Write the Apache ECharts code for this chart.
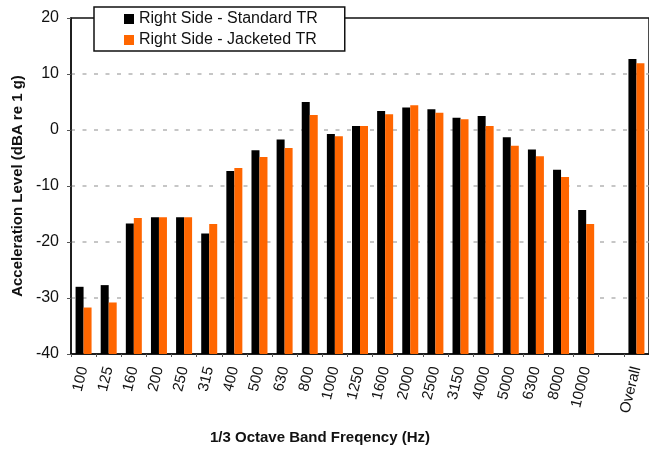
<!DOCTYPE html>
<html>
<head>
<meta charset="utf-8">
<script src="https://cdn.jsdelivr.net/npm/echarts@6/dist/echarts.min.js"></script>
<style>
  html, body { margin: 0; padding: 0; background: #fff; }
  #chart { width: 649px; height: 452px; }
</style>
</head>
<body>
<div id="chart"></div>
<script>
// 1/3 octave band centre frequencies (Hz), a spacer slot, then the overall level
var bands = ['100', '125', '160', '200', '250', '315', '400', '500', '630', '800',
  '1000', '1250', '1600', '2000', '2500', '3150', '4000', '5000', '6300', '8000',
  '10000', '', 'Overall'];

// Acceleration level, dBA re 1 g
var standardTR = [-28.0, -27.7, -16.7, -15.6, -15.6, -18.5, -7.3, -3.6, -1.7, 5.0,
  -0.7, 0.7, 3.4, 4.0, 3.7, 2.2, 2.5, -1.3, -3.5, -7.1,
  -14.3, null, 12.7];
var jacketedTR = [-31.7, -30.8, -15.7, -15.6, -15.6, -16.8, -6.8, -4.8, -3.2, 2.7,
  -1.1, 0.7, 2.8, 4.4, 3.1, 1.9, 0.7, -2.8, -4.7, -8.4,
  -16.8, null, 11.9];

var yTicks = { min: -40, max: 20, step: 10 };

var FONT = '"Liberation Sans", Arial, sans-serif';
var BAR_W = 8;

// [categoryIndex, value] pairs, skipping the empty spacer slot
function pairs(values) {
  var out = [];
  values.forEach(function (v, i) { if (v !== null) out.push([i, v]); });
  return out;
}

// Bars rise from the bottom of the value axis, not from zero
function barRenderer(offset) {
  return function (params, api) {
    var top = api.coord([api.value(0), api.value(1)]);
    var base = api.coord([api.value(0), yTicks.min]);
    return {
      type: 'rect',
      shape: { x: top[0] + offset, y: top[1], width: BAR_W, height: base[1] - top[1] },
      style: api.style()
    };
  };
}

var chart = echarts.init(document.getElementById('chart'), null, { renderer: 'canvas' });

chart.setOption({
  animation: false,
  backgroundColor: '#ffffff',
  textStyle: { fontFamily: FONT },
  grid: {
    left: 71,
    top: 18,
    width: 582,
    height: 336,
    show: true,
    borderColor: '#111',
    borderWidth: 1.5,
    backgroundColor: 'transparent'
  },
  legend: {
    orient: 'vertical',
    left: 94,
    top: 7,
    itemWidth: 10,
    itemHeight: 10,
    itemGap: 5,
    icon: 'rect',
    padding: [4, 27, 3, 30],
    backgroundColor: '#ffffff',
    borderColor: '#111',
    borderWidth: 1.5,
    textStyle: { fontFamily: FONT, fontSize: 16, color: '#111', lineHeight: 16 },
    data: ['Right Side - Standard TR', 'Right Side - Jacketed TR']
  },
  xAxis: {
    type: 'category',
    data: bands,
    axisLine: { show: true, onZero: false, lineStyle: { color: '#111', width: 1.5 } },
    axisTick: { show: true, interval: 0, length: 3, lineStyle: { color: '#555' } },
    axisLabel: {
      interval: 0,
      rotate: 76,
      margin: 13,
      fontFamily: FONT,
      fontSize: 15,
      color: '#111'
    },
    splitLine: { show: false },
    name: '1/3 Octave Band Freqency (Hz)',
    nameLocation: 'middle',
    nameGap: 76,
    nameTextStyle: {
      fontFamily: FONT,
      fontSize: 15,
      fontWeight: 'bold',
      color: '#111',
      padding: [0, 80, 0, 0]
    }
  },
  yAxis: {
    type: 'value',
    min: yTicks.min,
    max: yTicks.max,
    interval: yTicks.step,
    axisLine: { show: true, lineStyle: { color: '#111', width: 1.5 } },
    axisTick: { show: true, length: 4, lineStyle: { color: '#555' } },
    axisLabel: { fontFamily: FONT, fontSize: 16, color: '#111', margin: 12 },
    splitLine: {
      show: true,
      showMinLine: false,
      showMaxLine: false,
      lineStyle: { color: '#b4b4b4', width: 1.5, type: [4, 7.5] }
    },
    name: 'Acceleration Level (dBA re 1 g)',
    nameLocation: 'middle',
    nameGap: 45,
    nameTextStyle: { fontFamily: FONT, fontSize: 15, fontWeight: 'bold', color: '#111' }
  },
  series: [
    {
      name: 'Right Side - Standard TR',
      type: 'custom',
      data: pairs(standardTR),
      encode: { x: 0, y: 1 },
      renderItem: barRenderer(-BAR_W),
      itemStyle: { color: '#000000' }
    },
    {
      name: 'Right Side - Jacketed TR',
      type: 'custom',
      data: pairs(jacketedTR),
      encode: { x: 0, y: 1 },
      renderItem: barRenderer(0),
      itemStyle: { color: '#ff6600' }
    }
  ]
});
</script>
</body>
</html>
